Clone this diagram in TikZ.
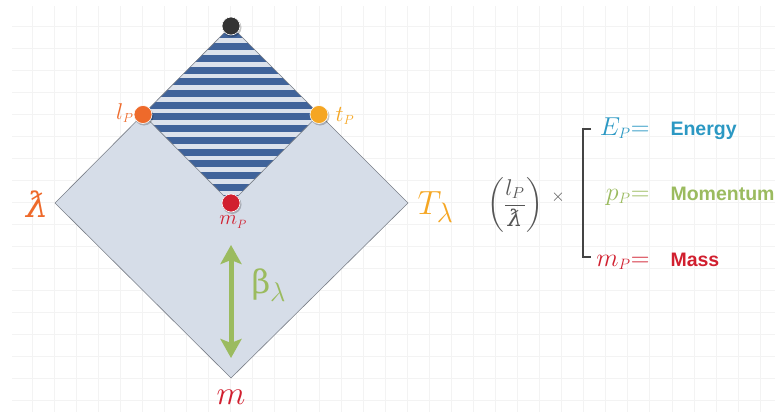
\documentclass[tikz,border=0pt]{standalone}
\usepackage{amsmath}
\usepackage{fontspec}
\setsansfont{Liberation Sans}
\newfontfamily\glyphfont{DejaVu Serif}
\usepackage{tikz}
\usetikzlibrary{arrows.meta, positioning}
\definecolor{gridgray}{HTML}{F3F3F3}
\definecolor{planefill}{HTML}{D6DDE8}
\definecolor{stripelight}{HTML}{DCE2EC}
\definecolor{stripeblue}{HTML}{40639A}
\definecolor{edgegray}{HTML}{7A7F88}
\definecolor{orangeL}{HTML}{EE6A2B}
\definecolor{goldT}{HTML}{F5A623}
\definecolor{redM}{HTML}{D11F2F}
\definecolor{greenB}{HTML}{9BBB5F}
\definecolor{blueE}{HTML}{2B98C3}
\definecolor{dotdark}{HTML}{333333}
\definecolor{textgray}{HTML}{555555}
\definecolor{bracketgray}{HTML}{444444}
\newcommand{\wavebar}{\text{\glyphfont\itshape ƛ}}
\newcommand{\sP}{_{\scriptscriptstyle P}}

\begin{document}
\begin{tikzpicture}[x=1pt, y=-1pt,
    dot/.style={circle, inner sep=0pt, minimum size=18pt, draw=white, line width=0.6pt},
    edge/.style={draw=edgegray, line width=0.6pt},
    big/.style={font=\fontsize{24.88}{25}\selectfont},
    sub/.style={font=\fontsize{20.74}{21}\selectfont},
    word/.style={font=\sffamily\bfseries\fontsize{19.5}{20}\selectfont, anchor=base west},
    eq/.style={font=\fontsize{20.74}{21}\selectfont, anchor=base east}]
  \useasboundingbox (0,0) rectangle (775,412);
  % background grid
  \foreach \x in {0,...,33}
    \draw[gridgray, line width=0.5pt] (32+22.06*\x,6) -- (32+22.06*\x,412);
  \foreach \y in {0,...,17}
    \draw[gridgray, line width=0.5pt] (12,26+22*\y) -- (775,26+22*\y);

  % corners of the diamond
  \coordinate (top) at (231,26);
  \coordinate (lam) at (55,203);
  \coordinate (Tl) at (408,203);
  \coordinate (bot) at (231,378);
  \coordinate (lP) at (143,114.5);
  \coordinate (tP) at (319,114.5);
  \coordinate (mP) at (231,203);

  \fill[planefill] (lam) -- (top) -- (Tl) -- (bot) -- cycle;
  \begin{scope}
    \clip (top) -- (tP) -- (mP) -- (lP) -- cycle;
    \fill[stripelight] (130,20) rectangle (330,210);
    \foreach \i in {0,...,14}
      \fill[stripeblue] (130,31.5+11.7*\i) rectangle (330,38.5+11.7*\i);
  \end{scope}
  \draw[edge] (lam) -- (top) -- (Tl) -- (bot) -- cycle;
  \draw[edge] (lP) -- (mP) -- (tP);

  % beta arrow
  \coordinate (arrtop) at (231,245);
  \coordinate (arrbot) at (231,358);
  \draw[greenB, line width=5pt, {Stealth[length=19pt,width=21pt,inset=4pt]}-{Stealth[length=19pt,width=21pt,inset=4pt]}] (arrtop) -- (arrbot);

  % points
  \foreach \p/\c in {top/dotdark, lP/orangeL, tP/goldT, mP/redM} {
    \fill[black, opacity=0.22] ([xshift=1pt,yshift=-1.5pt]\p) circle (9.5pt);
    \node[dot, fill=\c] (dot-\p) at (\p) {};
  }

  % labels
  \node[big, orangeL] (lamlab) at (38,204) {\scalebox{1.4}{$\wavebar$}};
  \node[big, goldT, anchor=west] (Tlab) at (414,207) {\scalebox{1.35}{$T_\lambda$}};
  \node[big, redM] (mlab) at (231,397) {\scalebox{1.35}{$m$}};
  \node[sub, orangeL, anchor=east] (lPlab) at (137,113) {\scalebox{1.1}{$l\sP$}};
  \node[sub, goldT, anchor=west] (tPlab) at (332,116) {\scalebox{1.1}{$t\sP$}};
  \node[sub, redM] (mPlab) at (233,222) {$m\sP$};
  \node[big, greenB, anchor=west] (betalab) at (248,285) {\scalebox{1.3}{{\glyphfont β}$_\lambda$}};

  % right hand side
  \node[font=\fontsize{20.74}{21}\selectfont, textgray] (ratio) at (515,205) {\scalebox{1.1}{$\left(\dfrac{l_{P}}{\wavebar}\right)$}};
  \node[font=\fontsize{17.28}{17}\selectfont, textgray] (times) at (558,197) {$\times$};
  \coordinate (brtop) at (591,129);
  \coordinate (brbot) at (591,257);
  \draw[bracketgray, line width=2.8pt] (brtop) -- ++(-8,0) |- (brbot);

  \node[eq, blueE] (Ep) at (653,135) {\scalebox{1.25}{$E\sP{=}$}};
  \node[word, blueE] (energy) at (667,135) {Energy};
  \node[eq, greenB] (pP) at (653,200) {\scalebox{1.25}{$p\sP{=}$}};
  \node[word, greenB] (momentum) at (667,200) {Momentum};
  \node[eq, redM] (mP2) at (653,266) {\scalebox{1.25}{$m\sP{=}$}};
  \node[word, redM] (mass) at (667,266) {Mass};
\end{tikzpicture}
\end{document}
